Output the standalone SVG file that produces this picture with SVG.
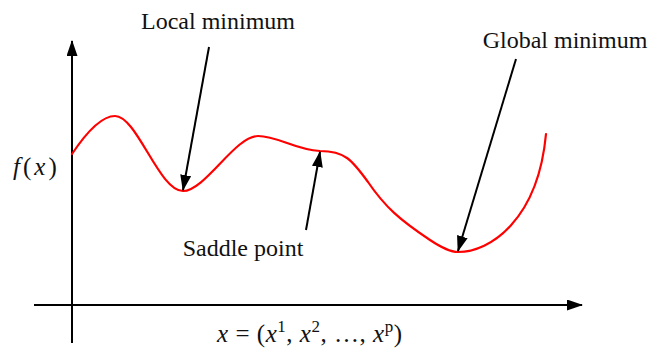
<svg xmlns="http://www.w3.org/2000/svg" width="650" height="350" viewBox="0 0 650 350">
<style>
.lbl{font-family:"Liberation Serif","Times New Roman",serif;font-size:24px;fill:#111}
.math{font-family:"Liberation Serif","Times New Roman",serif;font-size:25px;fill:#111}
.it{font-style:italic}
.axis{stroke:#000;stroke-width:2;fill:none}
.conn{stroke:#000;stroke-width:2;fill:none}
.curve{stroke:#ff0000;stroke-width:2.2;fill:none;stroke-linecap:round}
</style>
<defs>
<marker id="ah" viewBox="0 0 16 11" markerWidth="16" markerHeight="11" refX="15" refY="5.5" orient="auto" markerUnits="userSpaceOnUse">
<path d="M0,0 L16,5.5 L0,11 z" fill="#000"/>
</marker>
</defs>
<g id="axes">
<line class="axis" x1="72" y1="343" x2="72" y2="41" marker-end="url(#ah)"/>
<line class="axis" x1="34" y1="305" x2="582" y2="305" marker-end="url(#ah)"/>
</g>
<g id="curve">
<path class="curve" d="M72,154 C84,136 100,116 115,116 C137,116 159,191 183,191 C205,191 235,136 258,136 C278,136 295,150 320,151 C345,151 352,160 368,182 C385,207 400,220 430,240 C442,248 450,252 458,252 C490,252 538,220 546,134"/>
</g>
<g id="connectors">
<line class="conn" x1="209" y1="47" x2="183" y2="190" marker-end="url(#ah)"/>
<line class="conn" x1="306" y1="230" x2="320" y2="152" marker-end="url(#ah)"/>
<line class="conn" x1="516" y1="59" x2="458" y2="251" marker-end="url(#ah)"/>
</g>
<g id="local-minimum"><text class="lbl" x="218" y="29" text-anchor="middle">Local minimum</text></g>
<g id="global-minimum"><text class="lbl" x="565" y="48" text-anchor="middle">Global minimum</text></g>
<g id="saddle-point"><text class="lbl" x="243" y="256" text-anchor="middle">Saddle point</text></g>
<g id="y-label"><text class="math" x="13" y="175" letter-spacing="3"><tspan class="it">f</tspan>(<tspan class="it">x</tspan>)</text></g>
<g id="x-label"><text class="math" x="217" y="342" textLength="185" lengthAdjust="spacing"><tspan class="it">x</tspan> = (<tspan class="it">x</tspan><tspan dy="-10" font-size="17">1</tspan><tspan dy="10">, </tspan><tspan class="it">x</tspan><tspan dy="-10" font-size="17">2</tspan><tspan dy="10">, …, </tspan><tspan class="it">x</tspan><tspan dy="-10" font-size="17">p</tspan><tspan dy="10">)</tspan></text></g>
</svg>
